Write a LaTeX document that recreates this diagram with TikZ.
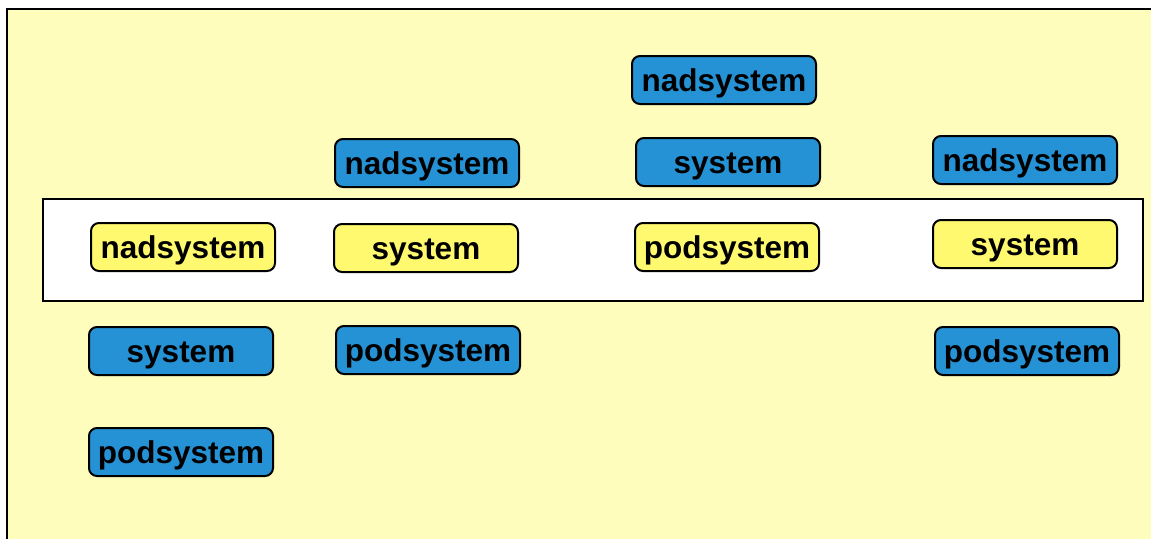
\documentclass[tikz,border=0pt]{standalone}
\usepackage{fontspec}
\setmainfont{Liberation Sans}
\definecolor{paper}{RGB}{255,253,188}
\definecolor{boxblue}{RGB}{38,146,214}
\definecolor{boxyellow}{RGB}{255,249,112}
\begin{document}
\begin{tikzpicture}[x=1pt,y=-1pt,
  level/.style={draw=black, line width=2pt, rounded corners=8pt,
    minimum width=184pt, minimum height=48pt, inner sep=0pt,
    text height=26pt, text depth=4pt,
    font=\fontsize{31.5}{36}\selectfont\bfseries, text=black},
  outer/.style={level, fill=boxblue},
  inner/.style={level, fill=boxyellow}]
\useasboundingbox (0,0) rectangle (1151,539);
\fill[white] (0,0) rectangle (1151,539);
\fill[paper] (7,9) rectangle (1151,539);
\draw[line width=2.5pt] (7,539) -- (7,9) -- (1151,9);
% the band holding the level under study
\node[draw=black, line width=2pt, fill=white, minimum width=1100pt, minimum height=102pt,
  inner sep=0pt] (band) at (593,250) {};
% column 1
\node[inner] (c1sys) at (183,247) {nadsystem};
\node[outer] (c1sub) at (181,351) {system};
\node[outer] (c1sub2) at (181,452) {podsystem};
% column 2
\node[outer] (c2sup) at (427,163) {nadsystem};
\node[inner] (c2sys) at (426,248) {system};
\node[outer] (c2sub) at (428,350) {podsystem};
% column 3
\node[outer] (c3sup2) at (724,80) {nadsystem};
\node[outer] (c3sup) at (728,162) {system};
\node[inner] (c3sys) at (727,247) {podsystem};
% column 4
\node[outer] (c4sup) at (1025,160) {nadsystem};
\node[inner] (c4sys) at (1025,244) {system};
\node[outer] (c4sub) at (1027,351) {podsystem};
\end{tikzpicture}
\end{document}
